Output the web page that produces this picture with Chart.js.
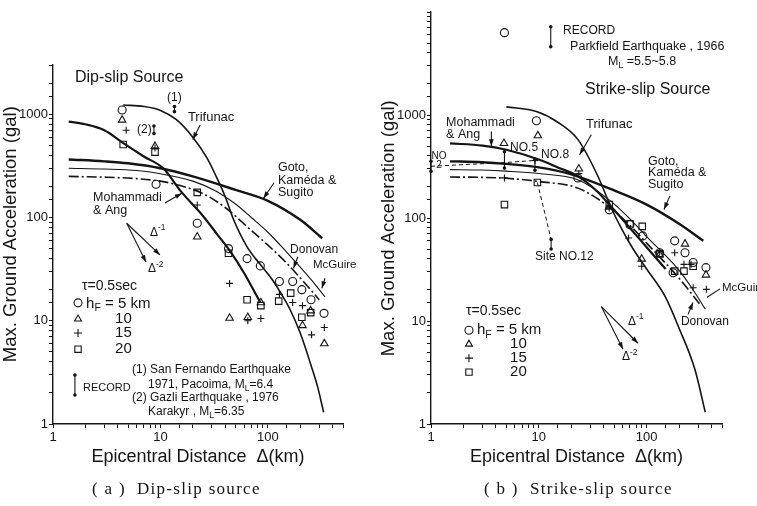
<!DOCTYPE html>
<html>
<head>
<meta charset="utf-8">
<script src="https://cdn.jsdelivr.net/npm/chart.js@4.4.1/dist/chart.umd.min.js"></script>
<style>
body{margin:0;background:#fff;width:757px;height:506px;position:relative;overflow:hidden}
canvas{position:absolute;top:0}
#ca{left:0}
#cb{left:378px}
.cap{position:absolute;top:479px;font:17px "Liberation Serif","DejaVu Serif",serif;color:#141414;white-space:pre;letter-spacing:1.3px}
</style>
</head>
<body>
<canvas id="ca" width="378" height="506"></canvas>
<canvas id="cb" width="379" height="506"></canvas>
<div class="cap" style="left:92px">( a )  Dip-slip source</div>
<div class="cap" style="left:484px">( b )  Strike-slip source</div>
<script>
const INK = '#141414';
const FONT = '"Liberation Sans", Arial, sans-serif';

const xTickLabels = [1, 10, 100];
const yTickLabels = [1, 10, 100, 1000];

// (a) dip-slip source, [distance km, acceleration gal]
const aCircle = [[4.4,1100],[9.1,210],[22,88],[43,50],[64,40],[85,34],[128,24],[170,24],[207,20],[252,16],[333,11.8]];
const aTriangle = [[4.4,880],[8.9,490],[22,65],[44,10.6],[65,10.8],[86,15],[210,9],[250,12.5],[335,6]];
const aCross = [[4.8,700],[8.9,470],[22,132],[44,23],[65,10],[86,10.5],[128,18],[170,15],[210,14],[255,7.3],[335,8.6]];
const aSquare = [[4.5,510],[8.9,430],[22,175],[43,45],[64,16],[86,14],[126,15.5],[163,18.5],[207,10.8],[250,12]];
const aTrifunac = [[4.5,1230],[7,1190],[10,1090],[14,890],[20,600],[27,380],[33,250],[40,160],[48,95],[64,52],[85,35],[110,25],[130,19],[160,13],[200,7.6],[250,3.8],[290,2.3],[330,1.3]];
const aMohammadi = [[1.4,850],[2,800],[3,700],[4.7,510],[7,390],[10.6,300],[15.8,175],[25,103],[34,68],[44,48],[60,29],[85,15]];
const aGoto = [[1.4,365],[3,350],[5,335],[10,300],[20,250],[50,185],[100,145],[200,95],[320,63]];
const aMcGuire = [[1.4,300],[3,295],[6,285],[10,265],[20,225],[33,180],[50,135],[70,100],[100,72],[150,46],[200,33],[270,23],[340,17]];
const aDonovan = [[1.4,250],[3,246],[6,238],[10,225],[15,205],[25,170],[40,125],[70,75],[100,54],[150,36],[200,26],[300,16]];
// records: distance, low, high
const aRecX = [13.5, 8.7];
const aRecLo = [1060, 650];
const aRecHi = [1190, 770];

// (b) strike-slip source
const bCircle = [[4.8,6300],[9.5,880],[23,245],[45,120],[70,86],[92,67],[132,46],[176,29.4],[182,60],[227,46],[270,37],[355,33]];
const bTriangle = [[4.75,530],[9.8,630],[23.5,300],[45,128],[90,40],[132,44],[227,56],[355,28]];
const bCross = [[4.8,245],[9.2,362],[23.5,270],[45,125],[68,64],[90,34],[132,47],[182,46],[222,35.5],[258,35.5],[270,21],[358,20.3]];
const bSquare = [[4.8,135],[9.7,221],[45,135],[70,88],[91,83],[132,45],[182,30.5],[222,30.5],[270,34]];
const bTrifunac = [[5,1200],[9.5,1080],[15,850],[23,580],[35,260],[47,125],[60,75],[75,50],[100,32],[150,17],[200,8.5],[280,3.4],[350,1.3]];
const bMohammadi = [[1.5,530],[3,505],[5,460],[10,370],[15,310],[23,255],[35,180],[45,135],[70,80],[100,52],[150,32]];
const bGoto = [[1.5,355],[3,348],[5,335],[10,310],[20,265],[50,185],[100,135],[200,88],[335,60]];
const bMcGuire = [[1.5,295],[3,292],[5,285],[10,270],[23,235],[45,150],[70,98],[100,66],[200,31],[270,20],[350,13]];
const bDonovan = [[1.5,250],[3,248],[5,243],[10,226],[23,195],[45,128],[70,85],[100,57],[200,26],[320,14]];
const bNoLine = [[1.0,318],[4.8,345],[9.2,362]];
const bSite12 = [[9.7,221],[13,62]];
const bRecX = [1.0, 4.8, 9.2, 13];
const bRecLo = [284, 305, 290, 50];
const bRecHi = [355, 440, 367, 62];

// labels placed in data units: text, x, y, size, align
const aTexts = [
  ['Dip-slip Source', 1.60, 2245, 16],
  ['(1)', 11.5, 1437, 12], ['(2)', 6.05, 703, 12],
  ['Trifunac', 18.0, 940, 13],
  ['Goto,', 124, 302, 12.5], ['Kaméda &', 124, 226, 12.5], ['Sugito', 124, 173, 12.5],
  ['Mohammadi', 2.36, 155, 12.5], ['& Ang', 2.36, 118, 12.5],
  ['Δ^{-1}', 8.0, 72, 12], ['Δ^{-2}', 7.66, 31.7, 12],
  ['Donovan', 161, 48.4, 12], ['McGuire', 263, 34.7, 11.5],
  ['τ=0.5sec', 1.86, 21.7, 14], ['h_{F} = 5 km', 2.03, 14.5, 15],
  ['10', 3.78, 10.4, 15], ['15', 3.78, 7.6, 15], ['20', 3.78, 5.3, 15],
  ['RECORD', 1.90, 2.23, 11],
  ['(1) San Fernando Earthquake', 5.44, 3.33, 12],
  ['1971, Pacoima, M_{L}=6.4', 7.66, 2.39, 12],
  ['(2) Gazli Earthquake , 1976', 5.44, 1.79, 12],
  ['Karakyr , M_{L}=6.35', 7.66, 1.31, 12]
];
const aArrows = [
  [23.4,787,20.0,571], [114,217,90.8,153], [11.0,138,15.8,172],
  [4.85,88,9.9,43.4], [4.85,88,7.34,37], [190,41.7,173,32.2], [340,25.8,318,20.6]
];
const aKeys = [['circle',1.71,14.9],['triangle',1.71,10.4],['cross',1.71,7.6],['rect',1.71,5.3],['record',1.60,1.91,2.98]];

const bTexts = [
  ['RECORD', 16.8, 6540, 12],
  ['Parkfield Earthquake , 1966', 19.5, 4580, 12.5],
  ['M_{L} =5.5~5.8', 43.8, 3280, 12.5],
  ['Strike-slip Source', 26.8, 1757, 16],
  ['Mohammadi', 1.38, 841, 12.5], ['& Ang', 1.38, 644, 12.5],
  ['Trifunac', 27.4, 805, 13],
  ['NO.5', 5.41, 482, 12], ['NO.8', 10.5, 412, 12],
  ['Goto,', 103, 352, 12.5], ['Kaméda &', 103, 276, 12.5], ['Sugito', 103, 211, 12.5],
  ['NO', 1.186, 394, 10, 'center'], ['2', 1.186, 322, 10, 'center'],
  ['Site NO.12', 9.22, 42.4, 12],
  ['McGuire', 500, 20.8, 11.5], ['Donovan', 208, 9.95, 12],
  ['Δ^{-1}', 67.2, 9.95, 12], ['Δ^{-2}', 59.1, 4.46, 12],
  ['τ=0.5sec', 2.11, 12.4, 14], ['h_{F} = 5 km', 2.67, 8.13, 15],
  ['10', 5.41, 5.96, 15], ['15', 5.41, 4.36, 15], ['20', 5.41, 3.19, 15]
];
const bArrows = [
  [3.63,693,3.63,497], [30.7,644,23.9,412], [164,163,145,121],
  [38,13.8,83.2,6.08], [38,13.8,60.4,5.33], [242,11.6,269,15.1], [480,20.5,363,17,false]
];
const bKeys = [['circle',2.25,8.13],['triangle',2.25,5.96],['cross',2.25,4.36],['rect',2.25,3.19],['record',12.9,4600,7200]];

function pts(a) { return a.map(p => ({ x: p[0], y: p[1] })); }

function markers(data, style, r) {
  return { data: pts(data), pointStyle: style, pointRadius: r, pointBorderColor: INK,
    pointBackgroundColor: 'rgba(0,0,0,0)', pointBorderWidth: 1.1, showLine: false };
}
function curve(data, w, dash, smooth) {
  return { data: pts(data), showLine: true, pointRadius: 0, borderColor: INK, borderWidth: w,
    borderDash: dash || [], cubicInterpolationMode: smooth === false ? 'default' : 'monotone', fill: false };
}

function marker(ctx, style, x, y, r) {
  ctx.beginPath();
  if (style === 'circle') ctx.arc(x, y, r, 0, Math.PI * 2);
  else if (style === 'triangle') {
    ctx.moveTo(x, y - r); ctx.lineTo(x + r * 0.866, y + r * 0.5); ctx.lineTo(x - r * 0.866, y + r * 0.5); ctx.closePath();
  } else if (style === 'rect') { const s = r * 0.707; ctx.rect(x - s, y - s, 2 * s, 2 * s); }
  else { ctx.moveTo(x - r, y); ctx.lineTo(x + r, y); ctx.moveTo(x, y - r); ctx.lineTo(x, y + r); }
  ctx.stroke();
}

function record(ctx, x, y1, y2) {
  ctx.beginPath(); ctx.moveTo(x, y1); ctx.lineTo(x, y2); ctx.stroke();
  [y1, y2].forEach(yy => { ctx.beginPath(); ctx.arc(x, yy, 1.8, 0, Math.PI * 2); ctx.fill(); });
}

function arrow(ctx, x1, y1, x2, y2, head) {
  ctx.beginPath(); ctx.moveTo(x1, y1); ctx.lineTo(x2, y2); ctx.stroke();
  if (!head) return;
  const a = Math.atan2(y2 - y1, x2 - x1), L = 7, W = 2.4;
  ctx.beginPath();
  ctx.moveTo(x2, y2);
  ctx.lineTo(x2 - L * Math.cos(a) + W * Math.sin(a), y2 - L * Math.sin(a) - W * Math.cos(a));
  ctx.lineTo(x2 - L * Math.cos(a) - W * Math.sin(a), y2 - L * Math.sin(a) + W * Math.cos(a));
  ctx.closePath(); ctx.fill();
}

// text with _{sub} and ^{sup}
function rich(ctx, str, x, y, size, align) {
  const segs = str.split(/(_\{[^}]*\}|\^\{[^}]*\})/).filter(s => s).map(p => {
    if (p[0] === '_') return { t: p.slice(2, -1), s: size * 0.7, dy: size * 0.3 };
    if (p[0] === '^') return { t: p.slice(2, -1), s: size * 0.7, dy: -size * 0.4 };
    return { t: p, s: size, dy: 0 };
  });
  let w = 0;
  segs.forEach(g => { ctx.font = g.s + 'px ' + FONT; g.w = ctx.measureText(g.t).width; w += g.w; });
  let cx = align === 'center' ? x - w / 2 : x;
  ctx.textAlign = 'left'; ctx.textBaseline = 'middle';
  segs.forEach(g => { ctx.font = g.s + 'px ' + FONT; ctx.fillText(g.t, cx, y + g.dy); cx += g.w; });
}

function onTick(list) {
  return v => list.some(t => Math.abs(t - v) < t * 1e-6) ? String(v) : '';
}

function panel(id, p) {
  const notes = {
    id: 'notes',
    afterDatasetsDraw(chart) {
      const ctx = chart.ctx, sx = chart.scales.x, sy = chart.scales.y;
      const X = v => sx.getPixelForValue(v), Y = v => sy.getPixelForValue(v);
      ctx.save();
      ctx.fillStyle = INK; ctx.strokeStyle = INK; ctx.lineWidth = 1.1;
      p.recX.forEach((v, i) => record(ctx, X(v), Y(p.recLo[i]), Y(p.recHi[i])));
      p.arrows.forEach(a => arrow(ctx, X(a[0]), Y(a[1]), X(a[2]), Y(a[3]), a[4] !== false));
      p.keys.forEach(k => {
        if (k[0] === 'record') record(ctx, X(k[1]), Y(k[2]), Y(k[3]));
        else marker(ctx, k[0], X(k[1]), Y(k[2]), k[0] === 'rect' ? 4.5 : 4);
      });
      p.texts.forEach(t => rich(ctx, t[0], X(t[1]), Y(t[2]), t[3], t[4]));
      ctx.restore();
    }
  };

  const axisFont = { size: 13, family: FONT };

  new Chart(document.getElementById(id), {
    type: 'scatter',
    data: { datasets: p.datasets },
    options: {
      responsive: false,
      animation: false,
      layout: { padding: { top: p.padTop, right: 35, left: 0, bottom: 0 } },
      plugins: { legend: { display: false }, tooltip: { enabled: false } },
      scales: {
        x: {
          type: 'logarithmic', min: 1, max: 500,
          afterFit: s => { s.height = 82; },
          border: { color: INK, width: 1.4 },
          grid: { drawOnChartArea: false, tickLength: 4, color: INK, lineWidth: 1 },
          ticks: { autoSkip: false, maxRotation: 0, padding: 2, color: INK, font: axisFont, callback: onTick(xTickLabels) },
          title: { display: true, text: 'Epicentral Distance  Δ(km)', color: INK, font: { size: 18, family: FONT }, padding: { top: 0, bottom: 38 } }
        },
        y: {
          type: 'logarithmic', min: 1, max: p.yMax,
          afterFit: s => { s.width = 53; },
          border: { color: INK, width: 1.4 },
          grid: { drawOnChartArea: false, tickLength: 4, color: INK, lineWidth: 1 },
          ticks: { autoSkip: false, padding: 1, color: INK, font: axisFont, callback: onTick(yTickLabels) },
          title: { display: true, text: p.yTitle, color: INK, font: { size: 18.5, family: FONT }, padding: { top: 0, bottom: 0 } }
        }
      }
    },
    plugins: [notes]
  });
}

panel('ca', {
  yMax: 3000, padTop: 65,
  yTitle: '    Max. Ground Acceleration (gal)',
  datasets: [
    curve(aTrifunac, 1.6), curve(aMohammadi, 2.2), curve(aGoto, 2.4),
    curve(aMcGuire, 1.1), curve(aDonovan, 1.6, [10, 3, 2, 3]),
    markers(aCircle, 'circle', 4), markers(aTriangle, 'triangle', 4.3),
    markers(aCross, 'cross', 3.5), markers(aSquare, 'rect', 4.6)
  ],
  recX: aRecX, recLo: aRecLo, recHi: aRecHi,
  texts: aTexts, arrows: aArrows, keys: aKeys
});

panel('cb', {
  yMax: 10000, padTop: 12,
  yTitle: 'Max. Ground Acceleration (gal)    ',
  datasets: [
    curve(bTrifunac, 1.6), curve(bMohammadi, 2.2), curve(bGoto, 2.4),
    curve(bMcGuire, 1.1), curve(bDonovan, 1.6, [10, 3, 2, 3]),
    curve(bNoLine, 1, [4, 3], false), curve(bSite12, 1, [4, 3], false),
    markers(bCircle, 'circle', 4), markers(bTriangle, 'triangle', 4.3),
    markers(bCross, 'cross', 3.5), markers(bSquare, 'rect', 4.6)
  ],
  recX: bRecX, recLo: bRecLo, recHi: bRecHi,
  texts: bTexts, arrows: bArrows, keys: bKeys
});
</script>
</body>
</html>
